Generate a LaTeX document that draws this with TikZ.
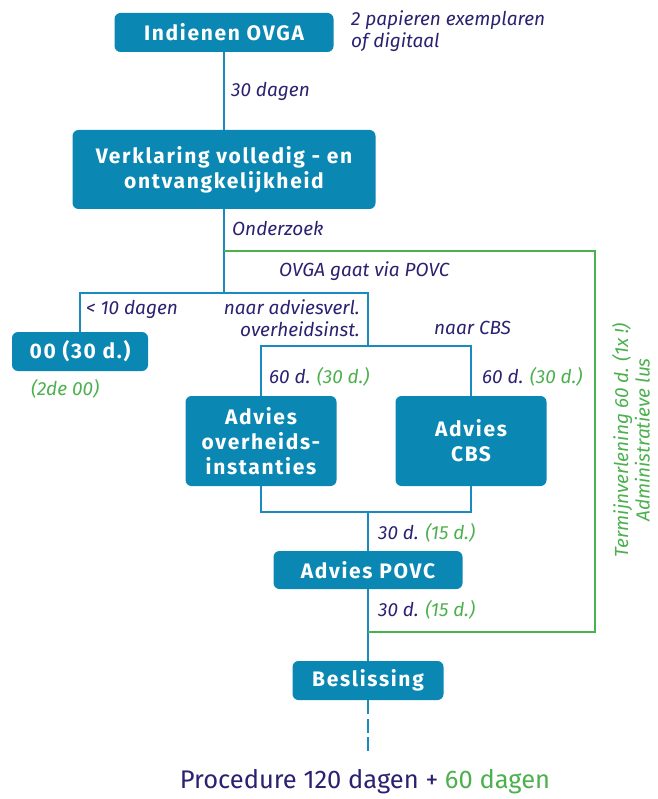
\documentclass[tikz,border=0pt]{standalone}
\usepackage{fontspec}
\setmainfont{Fira Sans}
\newfontfamily\boxfam{Fira Sans}[LetterSpace=8, BoldFeatures={LetterSpace=8}]
\definecolor{boxblue}{HTML}{0A87B2}
\definecolor{lineblue}{HTML}{1A8BC0}
\definecolor{navy}{HTML}{2A2170}
\definecolor{loopgreen}{HTML}{4CB04E}
\newcommand{\gr}[1]{\textcolor{loopgreen}{#1}}
\newcommand{\boxfont}{\boxfam\bfseries\fontsize{21}{25}\selectfont}
\begin{document}
\begin{tikzpicture}[x=1pt,y=-1pt,
  stepbox/.style={fill=boxblue, rounded corners=6pt, text=white,
    font=\boxfont, align=center, inner sep=0pt},
  lbl/.style={font=\itshape\fontsize{19}{21.5}\selectfont, text=navy, inner sep=0pt},
  flow/.style={draw=lineblue, line width=2pt},
  loopline/.style={draw=loopgreen, line width=2pt}]
\useasboundingbox (0,0) rectangle (657,799);

% process steps
\node[stepbox, minimum width=219pt, minimum height=39pt] (ovga) at (224,32.5) {Indienen OVGA};
\node[stepbox, minimum width=303pt, minimum height=79pt] (verkl) at (224,169.5) {Verklaring volledig - en\\ontvangkelijkheid};
\node[stepbox, minimum width=136pt, minimum height=39pt] (oo) at (80,351.5) {00 (30 d.)};
\node[stepbox, minimum width=151pt, minimum height=90pt] (advo) at (261,441) {Advies\\overheids-\\instanties};
\node[stepbox, minimum width=151pt, minimum height=90pt] (advc) at (471,441) {Advies\\CBS};
\node[stepbox, minimum width=189pt, minimum height=38pt] (povc) at (368,570) {Advies POVC};
\node[stepbox, minimum width=151pt, minimum height=39pt] (besl) at (368,680.5) {Beslissing};

% junctions
\coordinate (jloop) at (224,251);
\coordinate (jsplit) at (224,293);
\coordinate (jleft) at (80,293);
\coordinate (jright) at (368,293);
\coordinate (jadv) at (368,346);
\coordinate (jmerge) at (368,512);
\coordinate (gtop) at (595,251);
\coordinate (gbot) at (595,632);
\coordinate (gend) at (368,632);
\coordinate (tail) at (368,753);

% main flow
\draw[flow] (ovga.south) -- (verkl.north);
\draw[flow] (verkl.south) -- (jsplit);
\draw[flow] (oo.north) -- (jleft) -- (jright) -- (jadv);
\draw[flow] (advo.north) |- (jadv) -| (advc.north);
\draw[flow] (advo.south) |- (jmerge) -| (advc.south);
\draw[flow] (jmerge) -- (povc.north);
\draw[flow] (povc.south) -- (besl.north);
\draw[flow, dash pattern=on 14pt off 4.5pt] (besl.south) -- (tail);

% administrative loop
\draw[loopline] (jloop) -- (gtop) -- (gbot) -- (gend);

% labels
\node[lbl, anchor=west, align=left] (n1) at (351,31) {2 papieren exemplaren\\of digitaal};
\node[lbl, anchor=west] (n2) at (231,91) {30 dagen};
\node[lbl, anchor=west] (n3) at (232,228) {Onderzoek};
\node[lbl, anchor=west] (n4) at (279,271) {OVGA gaat via POVC};
\node[lbl, anchor=west] (n5) at (86,309) {< 10 dagen};
\node[lbl, anchor=east, align=right] (n6) at (360,318) {naar adviesverl.\\overheidsinst.};
\node[lbl, anchor=west] (n7) at (434,328) {naar CBS};
\node[lbl, anchor=west] (n8) at (269,377) {60 d. \gr{(30 d.)}};
\node[lbl, anchor=west] (n9) at (482,377) {60 d. \gr{(30 d.)}};
\node[lbl, anchor=west, text=loopgreen] (n10) at (31,389) {(2de 00)};
\node[lbl, anchor=west] (n11) at (378,533) {30 d. \gr{(15 d.)}};
\node[lbl, anchor=west] (n12) at (378,610) {30 d. \gr{(15 d.)}};
\node[lbl, text=loopgreen, rotate=90, align=center] (n13) at (631,440) {Termijnverlening 60 d. (1x !)\\Administratieve lus};

\node[font=\fontsize{25.5}{30}\selectfont, text=navy, inner sep=0pt] (total) at (365,782) {Procedure 120 dagen + \gr{60 dagen}};
\end{tikzpicture}
\end{document}
